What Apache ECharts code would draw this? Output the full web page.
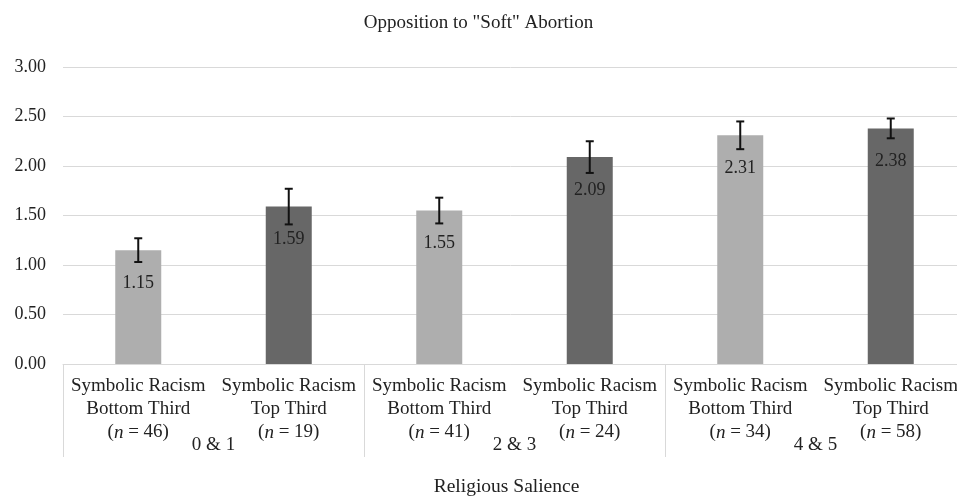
<!DOCTYPE html>
<html>
<head>
<meta charset="utf-8">
<script src="https://cdn.jsdelivr.net/npm/echarts@6/dist/echarts.min.js"></script>
<style>
html, body { margin: 0; padding: 0; background: #fff; }
#chart { width: 957px; height: 498px; }
</style>
</head>
<body>
<div id="chart"></div>
<script>
// 数据
var groups = ['0 & 1', '2 & 3', '4 & 5'];
var levels = ['Bottom Third', 'Top Third', 'Bottom Third', 'Top Third', 'Bottom Third', 'Top Third'];
var counts = [46, 19, 41, 24, 34, 58];
var means = [1.15, 1.59, 1.55, 2.09, 2.31, 2.38];
var errors = [0.12, 0.18, 0.13, 0.16, 0.14, 0.10];
var yTicks = [0, 0.5, 1, 1.5, 2, 2.5, 3];

var serif = '"Liberation Serif", "DejaVu Serif", serif';
var colorLight = '#aeaeae';
var colorDark = '#676767';

var categories = [];
for (var i = 0; i < levels.length; i++) {
	categories.push(i);
}

var barData = [];
var errData = [];
for (var i = 0; i < means.length; i++) {
	barData.push({
		value: means[i],
		itemStyle: { color: i % 2 === 0 ? colorLight : colorDark }
	});
	errData.push([i, means[i] - errors[i], means[i] + errors[i]]);
}

var myChart = echarts.init(document.getElementById('chart'));

var option = {
	animation: false,
	title: {
		text: 'Opposition to "Soft" Abortion',
		left: 'center',
		top: 9,
		textStyle: { fontFamily: serif, fontSize: 19, fontWeight: 'normal', color: '#222' }
	},
	// 右侧超出画布
	grid: { left: 63, width: 903, top: 67, bottom: 134, outerBoundsMode: 'none', containLabel: false },
	xAxis: [{
		type: 'category',
		data: categories,
		axisLine: { lineStyle: { color: '#d9d9d9' } },
		axisTick: { show: false },
		axisLabel: {
			interval: 0,
			margin: 11,
			fontFamily: serif,
			fontSize: 19,
			color: '#222',
			lineHeight: 23,
			align: 'center',
			formatter: function(v) {
				var k = Number(v);
				return 'Symbolic Racism\n' + levels[k] + '\n({i|n} = ' + counts[k] + ')';
			},
			rich: {
				i: { fontFamily: serif, fontSize: 19, fontStyle: 'italic', color: '#222', lineHeight: 23 }
			}
		}
	}, {
		type: 'category',
		data: groups,
		position: 'bottom',
		axisLine: { show: false },
		axisTick: { show: true, length: 93, interval: 0, lineStyle: { color: '#d9d9d9' } },
		axisLabel: {
			interval: 0,
			margin: 72,
			fontFamily: serif,
			fontSize: 19,
			color: '#222'
		},
		name: 'Religious Salience',
		nameLocation: 'middle',
		nameGap: 113,
		nameTextStyle: { fontFamily: serif, fontSize: 19.5, color: '#222', padding: [0, 16, 0, 0] }
	}],
	yAxis: {
		type: 'value',
		min: yTicks[0],
		max: yTicks[yTicks.length - 1],
		interval: 0.5,
		axisLine: { show: false },
		axisTick: { show: false },
		splitLine: { lineStyle: { color: '#d9d9d9' } },
		axisLabel: {
			margin: 17,
			fontFamily: serif,
			fontSize: 18,
			color: '#222',
			formatter: function(v) { return v.toFixed(2); }
		}
	},
	series: [{
		type: 'bar',
		data: barData,
		barWidth: 46,
		label: {
			show: true,
			position: 'insideTop',
			distance: 24,
			fontFamily: serif,
			fontSize: 18,
			color: '#222',
			formatter: function(p) { return p.value.toFixed(2); }
		}
	}, {
		type: 'custom',
		data: errData,
		z: 10,
		renderItem: function(params, api) {
			var x = api.value(0);
			var lo = api.coord([x, api.value(1)]);
			var hi = api.coord([x, api.value(2)]);
			var w = 4;
			var style = { stroke: '#111', lineWidth: 2 };
			return {
				type: 'group',
				children: [
					{ type: 'line', shape: { x1: lo[0], y1: lo[1], x2: hi[0], y2: hi[1] }, style: style },
					{ type: 'line', shape: { x1: lo[0] - w, y1: lo[1], x2: lo[0] + w, y2: lo[1] }, style: style },
					{ type: 'line', shape: { x1: hi[0] - w, y1: hi[1], x2: hi[0] + w, y2: hi[1] }, style: style }
				]
			};
		}
	}]
};

myChart.setOption(option);
</script>
</body>
</html>
